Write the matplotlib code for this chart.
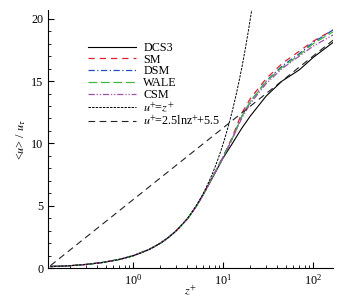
import numpy as np
import matplotlib
matplotlib.use("Agg")
import matplotlib.pyplot as plt

plt.rcParams["font.family"] = ["Liberation Serif", "DejaVu Serif"]
plt.rcParams["mathtext.fontset"] = "stix"

# z+ stations and mean velocity profiles
z = [0.12, 0.2, 0.3, 0.45, 0.7, 1.0, 1.5, 2.0, 2.5, 3.0, 4.0, 5.0, 6.0, 7.0, 8.0,
     10.0, 12.5, 16.0, 20.0, 30.0, 45.0, 70.0, 100.0, 166.0]
dcs3 = [0.13, 0.2, 0.3, 0.45, 0.70, 1.0, 1.5, 2.0, 2.5, 3.0, 3.95, 4.95, 5.9, 6.8, 7.55,
        8.85, 9.95, 11.2, 12.2, 13.8, 15.0, 15.9, 16.9, 18.1]
sm = [0.13, 0.2, 0.3, 0.45, 0.70, 1.0, 1.5, 2.0, 2.5, 3.0, 3.95, 4.95, 5.9, 6.8, 7.6,
      8.95, 10.45, 12.4, 13.6, 15.2, 16.4, 17.4, 18.2, 19.1]
dsm = [0.13, 0.2, 0.3, 0.45, 0.70, 1.0, 1.5, 2.0, 2.5, 3.0, 3.95, 4.95, 5.9, 6.8, 7.6,
       8.95, 10.35, 12.15, 13.35, 15.0, 16.2, 17.2, 18.1, 19.1]
wale = [0.13, 0.2, 0.3, 0.45, 0.70, 1.0, 1.5, 2.0, 2.5, 3.0, 3.95, 4.95, 5.9, 6.8, 7.6,
        8.95, 10.35, 12.15, 13.35, 14.95, 16.1, 17.1, 18.0, 18.95]
csm = [0.13, 0.2, 0.3, 0.45, 0.70, 1.0, 1.5, 2.0, 2.5, 3.0, 3.95, 4.95, 5.9, 6.8, 7.6,
       8.9, 10.3, 12.0, 13.2, 14.8, 16.0, 17.0, 17.8, 18.7]

fs = 8.7

fig = plt.figure(figsize=(3.43, 3.03), dpi=100)
ax = fig.add_axes([0.14, 0.115, 0.831, 0.852])

ax.plot(z, dcs3, color="black", lw=0.8, label="DCS3")
ax.plot(z, sm, color="#e0202a", lw=0.9, dashes=(5, 4), label="SM")
ax.plot(z, dsm, color="#2050c0", lw=0.9, dashes=(5, 2, 1, 2), label="DSM")
ax.plot(z, wale, color="#40b840", lw=0.9, dashes=(7, 3), label="WALE")
ax.plot(z, csm, color="#a050a8", lw=0.9, dashes=(5, 1.5, 1, 1.5, 1, 1.5), label="CSM")

# reference laws
zl = np.geomspace(0.12, 166, 200)
zv = np.geomspace(0.12, 21, 200)
ax.plot(zv, zv, color="black", lw=0.7, dashes=(2.5, 1.2), label=r"$u^{+}\!$=$z^{+}$")
ax.plot(zl, 2.5 * np.log(zl) + 5.5, color="#222222", lw=0.8, dashes=(6, 4),
        label=r"$u^{+}\!$=2.5lnz$^{+}\!$+5.5")

ax.set_xscale("log")
ax.set_xlim(0.113, 166)
ax.set_ylim(0, 20.7)
ax.set_yticks([0, 5, 10, 15, 20])
ax.set_yticks(np.arange(0, 21, 1), minor=True)
ax.tick_params(which="both", direction="in", labelsize=fs, top=False, right=False)
ax.tick_params(which="major", length=4)
ax.tick_params(which="minor", length=2.5)
ax.spines["top"].set_visible(False)
ax.spines["right"].set_visible(False)

ax.set_xlabel(r"$z^{+}$", fontsize=fs, labelpad=-3)
ax.set_ylabel(r"<$u$> / $u_\tau$", fontsize=fs, labelpad=2)

ax.legend(loc="upper left", bbox_to_anchor=(0.123, 0.895), frameon=False, fontsize=fs,
          handlelength=4.0, handletextpad=0.58, labelspacing=-0.02, borderaxespad=0)

fig.savefig("out.png", dpi=100)
